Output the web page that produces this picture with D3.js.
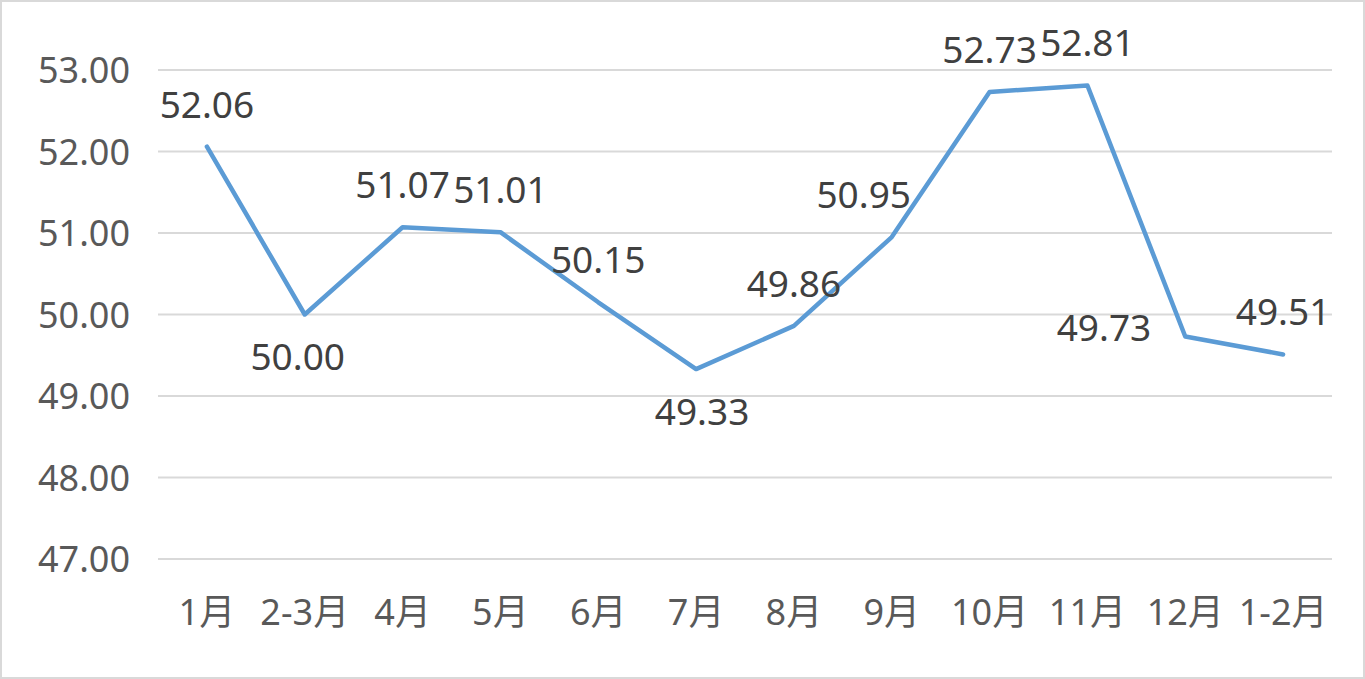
<!DOCTYPE html>
<html><head><meta charset="utf-8">
<script src="https://cdn.jsdelivr.net/npm/d3@7"></script>
<style>
html,body{margin:0;padding:0;background:#fff;}
svg{display:block;}
</style></head>
<body>
<svg id="chart" width="1365" height="679"></svg>
<script>
const categories = ["1月","2-3月","4月","5月","6月","7月","8月","9月","10月","11月","12月","1-2月"];
const values = [52.06,50.00,51.07,51.01,50.15,49.33,49.86,50.95,52.73,52.81,49.73,49.51];
const yTicks = [47,48,49,50,51,52,53];
// label placement per point (Excel-style): above / below / left, with small nudges
const labelPlace = ["above","below","above","above","above","below","above","above","above","above","left","above"];
const labelNudge = [0,-7,0,0,0,6,0,-28,0,0,0,0];

const W = 1365, H = 679;
const m = {left:158, right:33, top:70, bottom:120};
const svg = d3.select("#chart");
const font = "'Noto Sans','Noto Sans CJK SC',sans-serif";

svg.append("rect").attr("x",1).attr("y",1).attr("width",W-2).attr("height",H-2)
  .attr("fill","#fff").attr("stroke","#D9D9D9").attr("stroke-width",2);

const x = d3.scaleBand().domain(categories).range([m.left, W-m.right]);
const y = d3.scaleLinear().domain([47,53]).range([559,70]);

// gridlines
svg.append("g").selectAll("line").data(yTicks).join("line")
  .attr("x1",m.left).attr("x2",W-m.right)
  .attr("y1",d=>y(d)).attr("y2",d=>y(d))
  .attr("stroke","#D9D9D9").attr("stroke-width",2);

// y axis labels
const yAxis = d3.axisLeft(y).tickValues(yTicks).tickFormat(d3.format(".2f")).tickSize(0).tickPadding(28);
const gy = svg.append("g").attr("transform",`translate(${m.left},0)`).call(yAxis);
gy.select(".domain").remove();
gy.selectAll("text").attr("font-family",font).attr("font-size",36).attr("fill","#595959").attr("dy","0.35em");

// x axis labels
const xAxis = d3.axisBottom(x).tickSize(0).tickPadding(40);
const gx = svg.append("g").attr("transform",`translate(0,${y(47)})`).call(xAxis);
gx.select(".domain").remove();
gx.selectAll("text").attr("font-family",font).attr("font-size",36).attr("fill","#595959");

// line
const cx = (d,i)=>x(categories[i])+x.bandwidth()/2;
const line = d3.line().x((d,i)=>cx(d,i)).y(d=>y(d));
svg.append("path").datum(values).attr("d",line)
  .attr("fill","none").attr("stroke","#5B9BD5").attr("stroke-width",4.5)
  .attr("stroke-linejoin","round").attr("stroke-linecap","round");

// data labels
svg.append("g").selectAll("text").data(values).join("text")
  .attr("font-family",font).attr("font-size",37).attr("fill","#404040")
  .attr("text-anchor",(d,i)=>labelPlace[i]==="left"?"end":"middle")
  .attr("x",(d,i)=>cx(d,i)+labelNudge[i]+(labelPlace[i]==="left"?-34:0))
  .attr("y",(d,i)=>y(d)+(labelPlace[i]==="above"?-42:labelPlace[i]==="below"?43:-8))
  .attr("dy","0.35em")
  .text(d=>d3.format(".2f")(d));
</script>
</body></html>
